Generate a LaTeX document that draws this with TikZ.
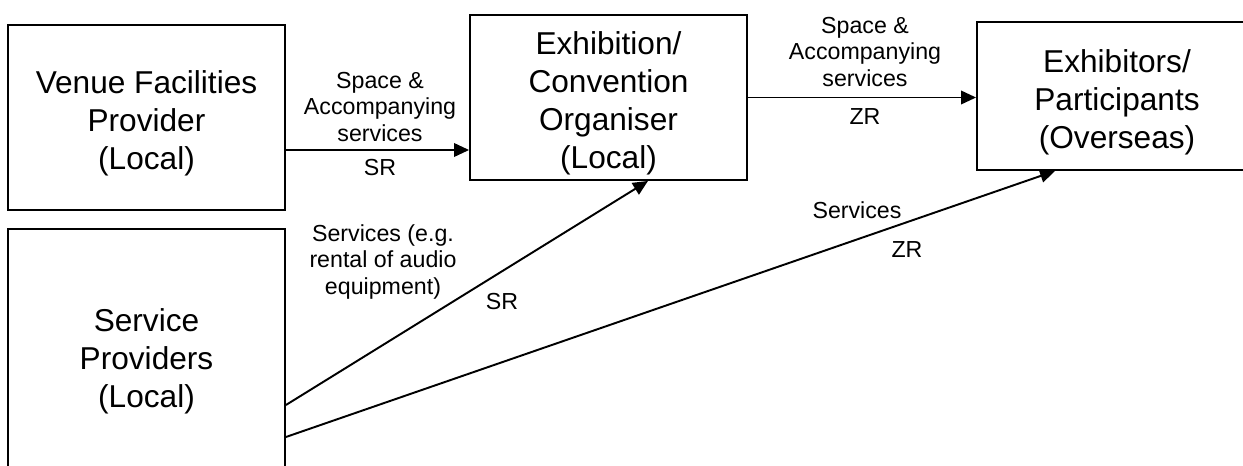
\documentclass[tikz,border=0pt]{standalone}
\usepackage{fontspec}
\setmainfont{Liberation Sans}
\usetikzlibrary{arrows.meta, positioning, calc}

\newcommand{\boxtop}{\rule{0pt}{20pt}}

\begin{document}
\begin{tikzpicture}[x=0.02cm, y=-0.02cm,
    party/.style={draw, line width=1.1pt, align=center, inner sep=0pt, font=\fontsize{18}{21.6}\selectfont},
    flowlbl/.style={align=center, inner sep=0pt, font=\fontsize{13.2}{15.3}\selectfont},
    flow/.style={-{Triangle[length=0.3cm, width=0.27cm]}, line width=1.1pt}]
        \clip (0,0) rectangle (1243,466);
        % parties
        \node[party, minimum width=5.54cm, minimum height=3.7cm] (venue) at (146.5,117.5) {\boxtop Venue Facilities\\Provider\\(Local)};
        \node[party, minimum width=5.54cm, minimum height=5.04cm] (service) at (146.5,355) {\boxtop Service\\Providers\\(Local)};
        \node[party, minimum width=5.54cm, minimum height=3.3cm] (org) at (608.5,97.5) {\boxtop Exhibition/\\Convention\\Organiser\\(Local)};
        \node[party, minimum width=5.6cm, minimum height=2.96cm] (exh) at (1117,96) {\boxtop Exhibitors/\\Participants\\(Overseas)};

        % flows
        \coordinate (a1) at ([yshift=-0.65cm]venue.east);
        \draw[flow] (a1) -- (a1 -| org.west);
        \draw[flow] (org.east) -- (org.east -| exh.west);
        \draw[flow] ([yshift=-1cm]service.east) -- ([xshift=0.79cm]org.south);
        \draw[flow] ([yshift=-1.64cm]service.east) -- ([xshift=-1.24cm]exh.south);

        % labels
        \node[flowlbl] (l1) at (380,107) {Space \&\\Accompanying\\services};
        \node[flowlbl] (r1) at (380,168) {SR};
        \node[flowlbl] (l2) at (865,52) {Space \&\\Accompanying\\services};
        \node[flowlbl] (r2) at (865,117) {ZR};
        \node[flowlbl] (l3) at (383,262) {Services (e.g.\\rental of audio\\equipment)};
        \node[flowlbl] (r3) at (502,302) {SR};
        \node[flowlbl] (l4) at (857,210) {Services};
        \node[flowlbl] (r4) at (907,250) {ZR};
    \end{tikzpicture}
\end{document}
